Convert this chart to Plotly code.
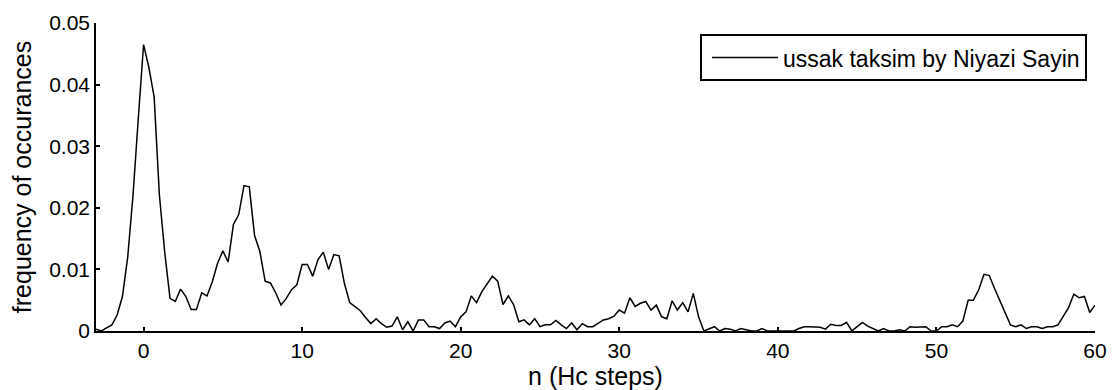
import numpy as np
import plotly.graph_objects as go

# x grid: Hc steps at 1/3 resolution from -3 to 60
x_start = -3.0
x_step = 1.0 / 3.0

# frequency of occurances, one value per 1/3 step
freq = [
    0.0003, 0.0, 0.0005,        # -3
    0.001, 0.0026, 0.0056,      # -2
    0.012, 0.022, 0.0345,       # -1
    0.0465, 0.0428, 0.038,      # 0
    0.022, 0.0128, 0.0053,      # 1
    0.0048, 0.0068, 0.0056,     # 2
    0.0035, 0.0035, 0.0062,     # 3
    0.0057, 0.008, 0.011,       # 4
    0.013, 0.0112, 0.0173,      # 5
    0.0189, 0.0236, 0.0234,     # 6
    0.0155, 0.0129, 0.0081,     # 7
    0.0078, 0.0062, 0.0042,     # 8
    0.0053, 0.0067, 0.0075,     # 9
    0.0108, 0.0108, 0.0089,     # 10
    0.0116, 0.0128, 0.010,      # 11
    0.0124, 0.0122, 0.0077,     # 12
    0.0046, 0.0039, 0.0033,     # 13
    0.0022, 0.0012, 0.002,      # 14
    0.0012, 0.0006, 0.0008,     # 15
    0.0023, 0.0002, 0.0015,     # 16
    0.0, 0.0018, 0.0018,        # 17
    0.0007, 0.0007, 0.0004,     # 18
    0.0013, 0.0016, 0.0007,     # 19
    0.0023, 0.0031, 0.0057,     # 20
    0.0046, 0.0064, 0.0077,     # 21
    0.0089, 0.0081, 0.0043,     # 22
    0.0057, 0.0043, 0.0015,     # 23
    0.0018, 0.001, 0.002,       # 24
    0.0007, 0.001, 0.001,       # 25
    0.0017, 0.001, 0.0004,      # 26
    0.0013, 0.0002, 0.0012,     # 27
    0.0007, 0.0007, 0.0012,     # 28
    0.0018, 0.002, 0.0024,      # 29
    0.0034, 0.0029, 0.0054,     # 30
    0.004, 0.0045, 0.0048,      # 31
    0.0034, 0.0042, 0.0023,     # 32
    0.002, 0.0049, 0.0034,      # 33
    0.0046, 0.0031, 0.0061,     # 34
    0.0023, 0.0, 0.0003,        # 35
    0.0007, 0.0, 0.0004,        # 36
    0.0003, 0.0, 0.0004,        # 37
    0.0002, 0.0, 0.0,           # 38
    0.0004, 0.0, 0.0,           # 39
    0.0, 0.0, 0.0,              # 40
    0.0, 0.0004, 0.0007,        # 41
    0.0007, 0.0006, 0.0006,     # 42
    0.0003, 0.0011, 0.0009,     # 43
    0.0009, 0.0014, 0.0,        # 44
    0.0007, 0.0014, 0.0008,     # 45
    0.0004, 0.0, 0.0004,        # 46
    0.0, 0.0, 0.0002,           # 47
    0.0, 0.0007, 0.0006,        # 48
    0.0006, 0.0007, 0.0,        # 49
    0.0, 0.0007, 0.0007,        # 50
    0.001, 0.0007, 0.0016,      # 51
    0.005, 0.005, 0.0067,       # 52
    0.0092, 0.009, 0.0069,      # 53
    0.005, 0.0031, 0.001,       # 54
    0.0007, 0.001, 0.0004,      # 55
    0.0007, 0.0007, 0.0004,     # 56
    0.0007, 0.0007, 0.001,      # 57
    0.0024, 0.0038, 0.006,      # 58
    0.0054, 0.0056, 0.003,      # 59
    0.0042,                     # 60
]

x_ticks = [0, 10, 20, 30, 40, 50, 60]
y_ticks = [0, 0.01, 0.02, 0.03, 0.04, 0.05]
y_tick_labels = ["0", "0.01", "0.02", "0.03", "0.04", "0.05"]

series_name = "ussak taksim by Niyazi Sayin"
x_title = "n (Hc steps)"
y_title = "frequency of occurances"

n_steps = x_start + x_step * np.arange(len(freq))

FONT = "Liberation Sans, Arial, Helvetica, sans-serif"

fig = go.Figure()
fig.add_trace(go.Scatter(
    x=n_steps, y=freq, mode="lines", name=series_name,
    line=dict(color="black", width=1.5),
))

fig.update_layout(
    width=1116, height=390,
    margin=dict(l=96, r=21, t=23, b=59, autoexpand=False),
    paper_bgcolor="white", plot_bgcolor="white",
    font=dict(family=FONT, size=21, color="black"),
    showlegend=True,
    legend=dict(
        x=0.992, y=0.964, xanchor="right", yanchor="top",
        bordercolor="black", borderwidth=2, bgcolor="white",
        font=dict(family=FONT, size=23, color="black"),
        itemwidth=66, tracegroupgap=0, indentation=5,
    ),
    xaxis=dict(
        range=[-3, 60], tickvals=x_ticks, automargin=False,
        ticks="inside", ticklen=4, tickwidth=2, tickcolor="black",
        showline=True, linecolor="black", linewidth=1.5,
        showgrid=False, zeroline=False, mirror=False,
        title=dict(text=x_title, standoff=8),
        tickfont=dict(size=21),
    ),
    yaxis=dict(
        range=[0, 0.05], tickvals=y_ticks, ticktext=y_tick_labels, automargin=False,
        ticks="inside", ticklen=4, tickwidth=2, tickcolor="black",
        showline=True, linecolor="black", linewidth=1.5,
        showgrid=False, zeroline=False, mirror=False,
        title=dict(text=y_title, standoff=10),
        tickfont=dict(size=21),
    ),
)

fig.write_html(
    "out.html",
    config={"displayModeBar": False},
    post_script="document.body.style.margin='0';",
)
